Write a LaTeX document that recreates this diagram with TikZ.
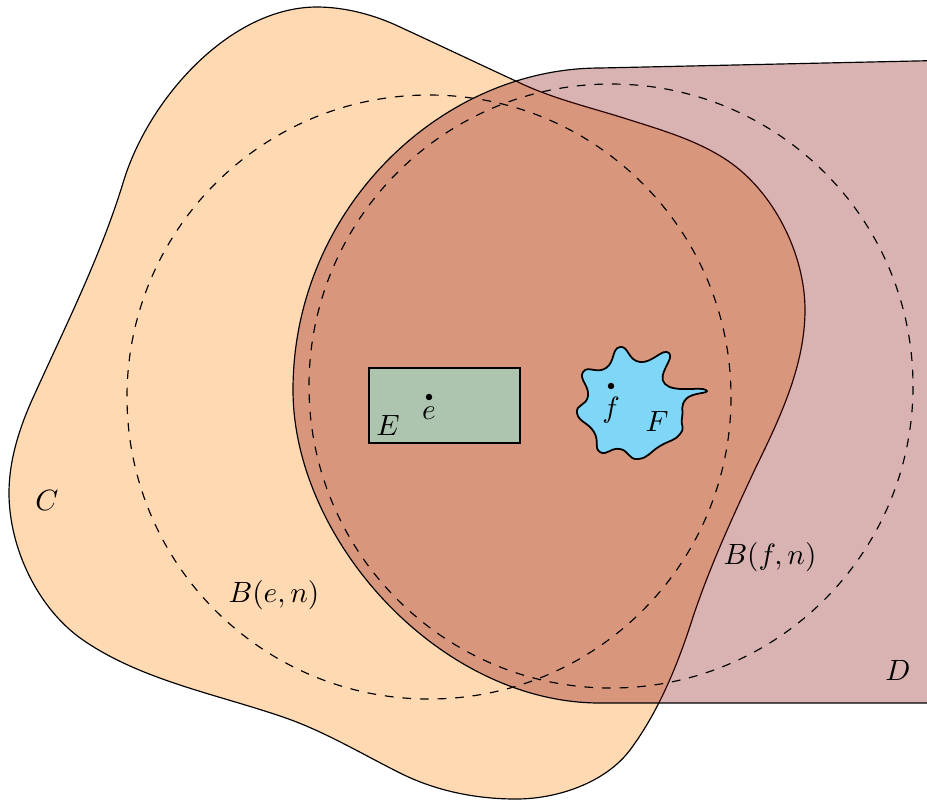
\documentclass[tikz,border=0pt]{standalone}
\usepackage{amsmath}
\usepackage{xcolor}
\usepackage{tikz}
\usetikzlibrary{positioning}

\definecolor{setE}{RGB}{173,196,175}
\definecolor{setF}{RGB}{127,214,247}

\begin{document}
\begin{tikzpicture}[x=0.012cm, y=-0.012cm,
		ball/.style={dashed},
		lbl/.style={inner sep=1pt}]
		\clip (0,0) rectangle (927,800);
		% 集合 C
		\filldraw[fill=orange!30, draw=black] (317,7)
			.. controls (230,7) and (148,99) .. (123,183)
			.. controls (100,258) and (64,329) .. (32,400)
			.. controls (19,429) and (9,461) .. (9,493)
			.. controls (9,548) and (38,609) .. (83,640)
			.. controls (141,680) and (216,694) .. (283,717)
			.. controls (324,731) and (362,754) .. (400,773)
			.. controls (436,791) and (476,799) .. (516,799)
			.. controls (557,799) and (605,783) .. (630,750)
			.. controls (659,711) and (678,664) .. (693,617)
			.. controls (710,566) and (733,516) .. (756,467)
			.. controls (780,418) and (805,365) .. (805,310)
			.. controls (805,259) and (779,203) .. (740,170)
			.. controls (709,144) and (668,132) .. (630,120)
			.. controls (593,108) and (553,99) .. (518,82)
			.. controls (479,64) and (439,45) .. (400,27)
			.. controls (375,15) and (345,7) .. (317,7) -- cycle;
		% 集合 D
		\filldraw[fill=red!50!black, fill opacity=0.3, draw=black]
			(960,60) -- (600,68) .. controls (440,68) and (293,210) .. (293,390)
			.. controls (293,540) and (440,703) .. (600,703) -- (960,703) -- cycle;
		% 球
		\coordinate (e) at (429,397);
		\coordinate (f) at (611,386);
		\draw[ball] (e) circle[radius=302];
		\draw[ball] (f) circle[radius=302];
		% 集合 E, F
		\draw[fill=setE] (369,368) rectangle (520,443);
		\draw[semithick, fill=setF] plot[smooth cycle, tension=0.9] coordinates {
			(620,347) (640,362) (669,353) (665,384) (706,390) (686,399)
			(682,418) (680,434) (660,446) (638,459) (620,449) (600,452)
			(594,432) (577,413) (588,396) (583,372) (606,368)};
		\fill (e) circle (1.1pt);
		\fill (f) circle (1.1pt);
		% 标注
		\node[lbl] (labE) at (388,425) {$E$};
		\node[lbl] (labe) at (429,413) {$e$};
		\node[lbl] (labf) at (611,410) {$f$};
		\node[lbl] (labF) at (657,421) {$F$};
		\node[lbl] (labC) at (47,500) {$C$};
		\node[lbl] (labD) at (898,670) {$D$};
		\node[lbl] (labBe) at (274,595) {$B(e,n)$};
		\node[lbl] (labBf) at (770,557) {$B(f,n)$};
	\end{tikzpicture}
\end{document}
